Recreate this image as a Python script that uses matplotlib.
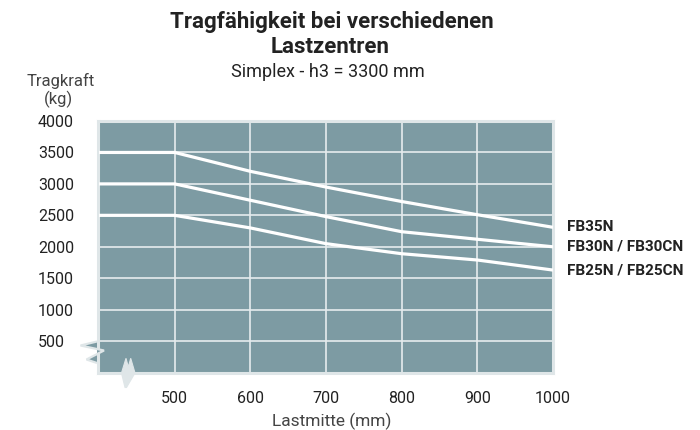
import matplotlib
matplotlib.use("Agg")
import matplotlib.pyplot as plt
from matplotlib.patches import Polygon

plt.rcParams['font.family'] = ['Roboto', 'DejaVu Sans']

# ---- data ----
lastmitte = [400, 500, 600, 700, 800, 900, 1000]
fb35n = [3500, 3500, 3200, 2950, 2720, 2510, 2310]
fb30n = [3000, 3000, 2740, 2480, 2240, 2120, 2000]
fb25n = [2500, 2500, 2300, 2050, 1890, 1790, 1630]
series_labels = ["FB35N", "FB30N / FB30CN", "FB25N / FB25CN"]
x_ticks = [500, 600, 700, 800, 900, 1000]
y_ticks = [500, 1000, 1500, 2000, 2500, 3000, 3500, 4000]

W, H = 700, 430
BG = '#7d9ba3'
LIGHT = '#dfe6e8'
TXT = '#222222'

fig = plt.figure(figsize=(7, 4.3), dpi=100)
ax = fig.add_axes([97.5 / W, (H - 372.6) / H, 455.5 / W, 251.6 / H])
ax.set_facecolor(BG)
ax.set_xlim(398, 1000)
ax.set_ylim(0, 4000)

ax.set_xticks(x_ticks)
ax.set_yticks(y_ticks)
ax.grid(True, color='#e6ecee', linewidth=1.2, zorder=1)
ax.set_axisbelow(True)
for s in ax.spines.values():
    s.set_color(LIGHT)
    s.set_linewidth(2.2)

ax.tick_params(axis='both', length=0, labelsize=11.5, labelcolor=TXT)
ax.tick_params(axis='x', pad=13)
ax.tick_params(axis='y', pad=42.8)
for lab in ax.get_yticklabels():
    lab.set_horizontalalignment('left')

for vals, lab in zip([fb35n, fb30n, fb25n], series_labels):
    ax.plot(lastmitte, vals, color='white', linewidth=2.3, zorder=3,
            solid_capstyle='butt', solid_joinstyle='miter')
    ax.annotate(lab, xy=(lastmitte[-1], vals[-1]), xytext=(10, 0),
                textcoords='offset points', ha='left', va='center',
                fontsize=11, fontweight='bold', color=TXT,
                annotation_clip=False)

# titles
fig.text(332 / W, 1 - 28 / H, "Tragfähigkeit bei verschiedenen", ha='center',
         va='baseline', fontsize=16, fontweight='bold', color=TXT)
fig.text(330 / W, 1 - 53.3 / H, "Lastzentren", ha='center',
         va='baseline', fontsize=16, fontweight='bold', color=TXT)
fig.text(328 / W, 1 - 77.3 / H, "Simplex - h3 = 3300 mm", ha='center',
         va='baseline', fontsize=13, color=TXT)

# axis labels
fig.text(60.5 / W, 1 - 86 / H, "Tragkraft", ha='center', va='baseline',
         fontsize=12, fontweight='normal', color='#444444')
fig.text(58.5 / W, 1 - 103.7 / H, "(kg)", ha='center', va='baseline',
         fontsize=12, fontweight='normal', color='#444444')
fig.text(332 / W, 1 - 426.5 / H, "Lastmitte (mm)", ha='center', va='baseline',
         fontsize=12.5, fontweight='normal', color='#444444')

# axis break symbols (decoration, in figure pixels)
def px(pts):
    return [(x / W, 1 - y / H) for x, y in pts]

fig.add_artist(Polygon(px([(97, 341.5), (80.5, 345.5), (104, 350.5),
                           (86.5, 359.5), (97, 363)]),
                       closed=False, facecolor=BG, edgecolor=LIGHT, lw=1.6,
                       transform=fig.transFigure, zorder=5))
fig.add_artist(Polygon(px([(121.5, 373), (126, 358.3), (128.3, 367),
                           (130.7, 358.3), (135, 373), (126.5, 387.5),
                           (125, 387.5)]),
                       closed=True, facecolor=LIGHT, edgecolor=LIGHT, lw=0.8,
                       transform=fig.transFigure, zorder=5))

fig.savefig("out.png", dpi=100)
